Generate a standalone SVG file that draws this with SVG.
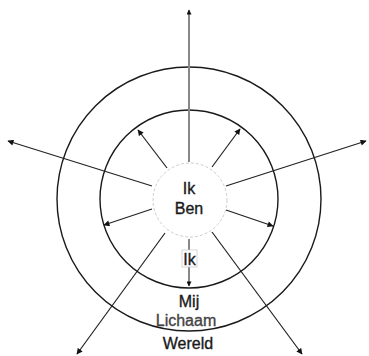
<svg xmlns="http://www.w3.org/2000/svg" width="369" height="356" viewBox="0 0 369 356">
<defs>
<marker id="ah" viewBox="0 0 10 10" refX="9" refY="5" markerWidth="7" markerHeight="6" markerUnits="userSpaceOnUse" orient="auto">
<path d="M0,0 L10,5 L0,10 z" fill="#111"/>
</marker>
<marker id="ahg" viewBox="0 0 10 10" refX="9" refY="5" markerWidth="7" markerHeight="5" markerUnits="userSpaceOnUse" orient="auto">
<path d="M0,0 L10,5 L0,10 z" fill="#111"/>
</marker>
</defs>
<style>
.ring{fill:none;stroke:#1a1a1a;stroke-width:1.4}
.core{fill:#fff;stroke:#ccc;stroke-width:1;stroke-dasharray:3,2}
.ar{stroke:#222;stroke-width:1.2;fill:none;marker-end:url(#ah)}
.gr{stroke:#888;stroke-width:2;fill:none;marker-end:url(#ahg)}
text{font-family:"Liberation Sans",Arial,sans-serif;font-size:16px;fill:#1a1a1a;stroke:#1a1a1a;stroke-width:0.35;text-anchor:middle}
</style>
<rect width="369" height="356" fill="#fff"/>
<g id="outer"><circle class="ring" cx="189" cy="199" r="132"/></g>
<g id="inner"><circle class="ring" cx="189" cy="199" r="89"/></g>
<g id="connectors">
<line class="gr" x1="189" y1="162" x2="189" y2="10"/>
<line class="ar" x1="152" y1="186" x2="8" y2="141"/>
<line class="ar" x1="226" y1="186" x2="366" y2="141"/>
<line class="ar" x1="167" y1="168" x2="138" y2="130"/>
<line class="ar" x1="212" y1="167" x2="240" y2="129"/>
<line class="ar" x1="152" y1="209" x2="104" y2="225"/>
<line class="ar" x1="226" y1="210" x2="273" y2="226"/>
<line class="ar" x1="165" y1="233" x2="77" y2="354"/>
<line class="ar" x1="212" y1="232" x2="302" y2="354"/>
<line class="gr" x1="189" y1="239" x2="189" y2="286"/>
</g>
<g id="core"><circle class="core" cx="190" cy="200" r="37"/>
<text x="189" y="194">Ik</text>
<text x="189" y="214">Ben</text></g>
<g id="ik2"><rect x="182" y="250" width="15" height="17" fill="#fff" stroke="#ccc" stroke-width="0.8"/>
<text x="189.5" y="265">Ik</text></g>
<g id="labels">
<text x="189" y="307">Mij</text>
<text x="186" y="326" style="fill:#444;stroke:#444">Lichaam</text>
<text x="188" y="349">Wereld</text>
</g>
</svg>
